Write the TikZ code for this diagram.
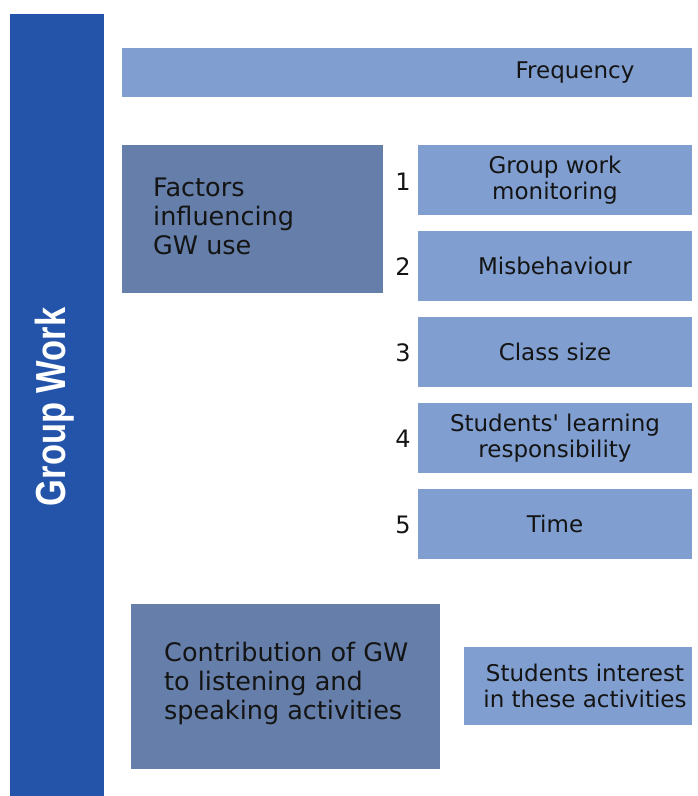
\documentclass[tikz,border=0pt]{standalone}
\usepackage{fontspec}
\setmainfont{DejaVu Sans}
\newfontfamily\straightfont{DejaVu Sans}
\newfontfamily\gwfont{Liberation Sans}
\definecolor{barblue}{HTML}{2354A9}
\definecolor{lightbox}{HTML}{809FD0}
\definecolor{darkbox}{HTML}{657FAA}
\definecolor{txt}{HTML}{141414}
\begin{document}
\begin{tikzpicture}[x=1pt,y=-1pt,
  lbox/.style={fill=lightbox,draw=none,inner sep=0pt,anchor=north west},
  dbox/.style={fill=darkbox,draw=none,inner sep=0pt,anchor=north west},
  ltext/.style={text=txt,font=\fontsize{23}{26}\selectfont,align=center,inner sep=0pt},
  dtext/.style={text=txt,font=\fontsize{25.5}{29}\selectfont,align=left,inner sep=0pt,anchor=west},
  numtext/.style={text=txt,font=\fontsize{24}{28}\selectfont,inner sep=0pt}]
\useasboundingbox (0,0) rectangle (697,796);
% left bar
\node[fill=barblue,inner sep=0pt,anchor=north west,minimum width=94pt,minimum height=782pt] (bar) at (10,14) {};
\node[text=white,inner sep=0pt,rotate=90,font=\gwfont\bfseries\fontsize{42}{46}\selectfont] (gw) at (55,407) {\scalebox{0.82}[1]{Group Work}};
% frequency
\node[lbox,minimum width=570pt,minimum height=49pt] (freq) at (122,48) {};
\node[ltext] (freqt) at (575,73) {Frequency};
% factors
\node[dbox,minimum width=261pt,minimum height=148pt] (fact) at (122,145) {};
\node[dtext] (factt) at (153,216) {Factors\\influencing\\GW use};
% items
\node[lbox,minimum width=274pt,minimum height=70pt] (i1) at (418,145) {};
\node[lbox,minimum width=274pt,minimum height=70pt] (i2) at (418,231) {};
\node[lbox,minimum width=274pt,minimum height=70pt] (i3) at (418,317) {};
\node[lbox,minimum width=274pt,minimum height=70pt] (i4) at (418,403) {};
\node[lbox,minimum width=274pt,minimum height=70pt] (i5) at (418,489) {};
\node[ltext] (t1) at (555,180) {Group work\\monitoring};
\node[ltext] (t2) at (555,266) {Misbehaviour};
\node[ltext] (t3) at (555,352) {Class size};
\node[ltext] (t4) at (555,438) {Students{\straightfont'} learning\\responsibility};
\node[ltext] (t5) at (555,524) {Time};
\node[numtext] (n1) at (403,182) {1};
\node[numtext] (n2) at (403,267) {2};
\node[numtext] (n3) at (403,353) {3};
\node[numtext] (n4) at (403,439) {4};
\node[numtext] (n5) at (403,525) {5};
% contribution
\node[dbox,minimum width=309pt,minimum height=165pt] (contr) at (131,604) {};
\node[dtext] (contrt) at (164,683) {Contribution of GW\\to listening and\\speaking activities};
\node[lbox,minimum width=228pt,minimum height=78pt] (interest) at (464,647) {};
\node[ltext] (interestt) at (585,686) {Students interest\\in these activities};
\end{tikzpicture}
\end{document}
